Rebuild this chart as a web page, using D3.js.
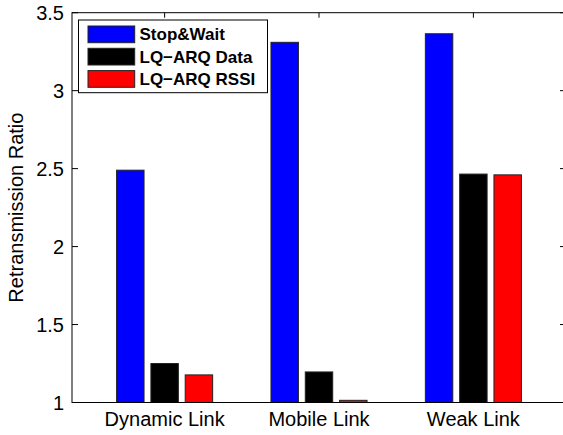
<!DOCTYPE html>
<html><head><meta charset="utf-8">
<script src="https://cdn.jsdelivr.net/npm/d3@7"></script>
<style>html,body{margin:0;padding:0;background:#fff;} svg{display:block;font-family:"Liberation Sans",Arial,sans-serif;}</style>
</head><body>
<svg id="c" width="563" height="435"></svg>
<script>
const categories = ["Dynamic Link", "Mobile Link", "Weak Link"];
const seriesNames = ["Stop&Wait", "LQ\u2212ARQ Data", "LQ\u2212ARQ RSSI"];
const stopWait = [2.49, 3.31, 3.365];
const lqData = [1.25, 1.196, 2.465];
const lqRssi = [1.177, 1.014, 2.46];
const colors = ["#0000ff", "#000000", "#ff0000"];
const yTicks = [1, 1.5, 2, 2.5, 3, 3.5];
const series = [stopWait, lqData, lqRssi];

const svg = d3.select("#c");
const L = 72, R = 566, T = 12.7, B = 402.5;
const x = d3.scaleLinear().domain([0.4, 3.6]).range([L, R]);
const y = d3.scaleLinear().domain([1, 3.5]).range([B, T]);
const slot = 2/9, bw = 0.8*slot;

const g = svg.append("g");
series.forEach((vals, si) => {
  g.selectAll(null).data(vals).enter().append("rect")
    .attr("x", (d, i) => x(i + 1 + (si - 1) * slot - bw/2))
    .attr("width", x(bw) - x(0))
    .attr("y", d => y(d))
    .attr("height", d => y(1) - y(d))
    .attr("fill", colors[si])
    .attr("stroke", "#222").attr("stroke-width", 1);
});

// box
const ax = svg.append("g").attr("stroke", "#000").attr("stroke-width", 1).attr("fill", "none");
ax.append("rect").attr("x", L).attr("y", T).attr("width", R - L).attr("height", B - T);

// y ticks (left and right, inward)
yTicks.forEach(t => {
  ax.append("line").attr("x1", L).attr("x2", L + 6).attr("y1", y(t)).attr("y2", y(t));
  ax.append("line").attr("x1", R).attr("x2", R - 6).attr("y1", y(t)).attr("y2", y(t));
});
// x ticks top and bottom
categories.forEach((c, i) => {
  ax.append("line").attr("x1", x(i+1)).attr("x2", x(i+1)).attr("y1", T).attr("y2", T + 5);
});

svg.append("g").selectAll("text").data(yTicks).enter().append("text")
  .attr("x", L - 8).attr("y", d => y(d)).attr("dy", "0.35em")
  .attr("text-anchor", "end").attr("font-size", 20).attr("fill", "#000")
  .text(d => d);

svg.append("g").selectAll("text").data(categories).enter().append("text")
  .attr("x", (d, i) => x(i+1)).attr("y", 426)
  .attr("text-anchor", "middle").attr("font-size", 20).attr("fill", "#000")
  .text(d => d);

svg.append("text").attr("transform", `translate(23,${(T+B)/2}) rotate(-90)`)
  .attr("text-anchor", "middle").attr("font-size", 20).attr("fill", "#000")
  .text("Retransmission Ratio");

// legend
const lg = svg.append("g");
lg.append("rect").attr("x", 78.5).attr("y", 20).attr("width", 189).attr("height", 72.7)
  .attr("fill", "#fff").attr("stroke", "#000").attr("stroke-width", 1);
seriesNames.forEach((n, i) => {
  const yy = 26 + i * 22.3;
  lg.append("rect").attr("x", 88).attr("y", yy).attr("width", 46.7).attr("height", 16.7)
    .attr("fill", colors[i]).attr("stroke", "#222").attr("stroke-width", 1);
  lg.append("text").attr("x", 139.5).attr("y", yy + 8.35).attr("dy", "0.36em")
    .attr("font-size", 17).attr("font-weight", "bold").attr("fill", "#000").text(n);
});
</script>
</body></html>
